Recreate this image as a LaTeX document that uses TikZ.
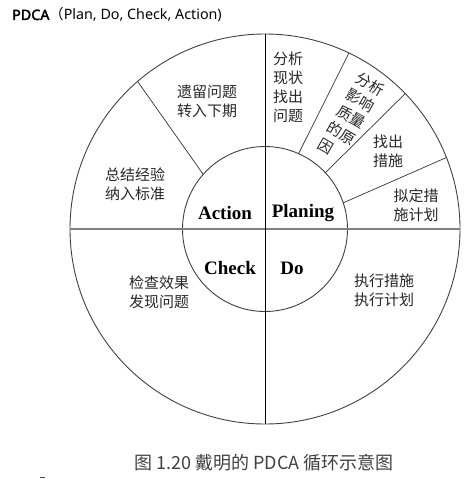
\documentclass[tikz,border=0pt]{standalone}
\usepackage{fontspec}
\setmainfont{Liberation Serif}
\newfontfamily\cjk{Noto Sans CJK SC}
\newfontfamily\hdr{Noto Sans}
\newfontfamily\hdrb{Noto Sans}[FakeBold=2.5]
\usetikzlibrary{calc}
\begin{document}
\begin{tikzpicture}[x=1pt,y=-1pt,
  ring/.style={draw=black!75, line width=0.9pt},
  spoke/.style={draw=black!80, line width=0.7pt},
  hline/.style={draw=black!50, line width=1.3pt},
  vline/.style={draw=black, line width=0.9pt},
  zh/.style={font=\cjk\fontsize{15}{19}\selectfont, align=center, text=black!85, inner sep=0pt},
  en/.style={font=\fontsize{19}{22}\selectfont\bfseries, inner sep=0pt},
  hdrtext/.style={font=\hdr\fontsize{14.3}{16}\selectfont, inner sep=0pt, anchor=base west},
  captext/.style={font=\cjk\fontsize{18}{20}\selectfont, text=black!75, inner sep=0pt}
]
\useasboundingbox (0,0) rectangle (464,481);
\coordinate (O) at (265,229);
% circles
\draw[ring] (O) circle[radius=195pt];
\draw[ring] (O) circle[radius=82.5pt];
% axes
\coordinate (W) at ($(O)+(180:195pt)$);
\coordinate (E) at ($(O)+(0:195pt)$);
\coordinate (N) at ($(O)+(90:195pt)$);
\coordinate (S) at ($(O)+(270:195pt)$);
\draw[hline] (W) -- (E);
\draw[vline] (N) -- (S);
% spokes
\coordinate (a1) at ($(O)+(130.8:195pt)$);
\coordinate (a2) at ($(O)+(138.5:82.5pt)$);
\coordinate (p1o) at ($(O)+(64.5:195pt)$);
\coordinate (p1i) at ($(O)+(66:82.5pt)$);
\coordinate (p2o) at ($(O)+(44:195pt)$);
\coordinate (p2i) at ($(O)+(43:82.5pt)$);
\coordinate (p3o) at ($(O)+(21.5:195pt)$);
\coordinate (p3i) at ($(O)+(18.5:82.5pt)$);
\draw[spoke] (a1) -- (a2);
\draw[spoke] (p1o) -- (p1i);
\draw[spoke] (p2o) -- (p2i);
\draw[spoke] (p3o) -- (p3i);
% inner labels
\node[en] (act) at (225,213) {Action};
\node[en] (plan) at (303,213) {Planing};
\node[en] (chk) at (230,268) {Check};
\node[en] (do) at (292,268) {Do};
% outer labels
\node[zh] (t1) at (288,87) {分析\\现状\\找出\\问题};
\node[zh, rotate=-30, align=left] (t2) at (351,117) {分析\\影响\\质量\\的原\\因};
\node[zh] (t3) at (388,151) {找出\\措施};
\node[zh] (t4) at (416,205) {拟定措\\施计划};
\node[zh] (t5) at (207,101) {遗留问题\\转入下期};
\node[zh] (t6) at (135,184) {总结经验\\纳入标准};
\node[zh] (t7) at (159,292) {检查效果\\发现问题};
\node[zh] (t8) at (384,290) {执行措施\\执行计划};
% header and caption
\node[hdrtext] (hdr) at (12,20) {{\hdrb PDCA}{\cjk （}Plan, Do, Check, Action)};
\node[captext] (cap) at (264,463) {图 1.20 戴明的 PDCA 循环示意图};
\coordinate (d1) at (40,477);
\coordinate (d2) at (45,477);
\draw[black!70, line width=1pt] (d1) -- (d2);
\end{tikzpicture}
\end{document}
